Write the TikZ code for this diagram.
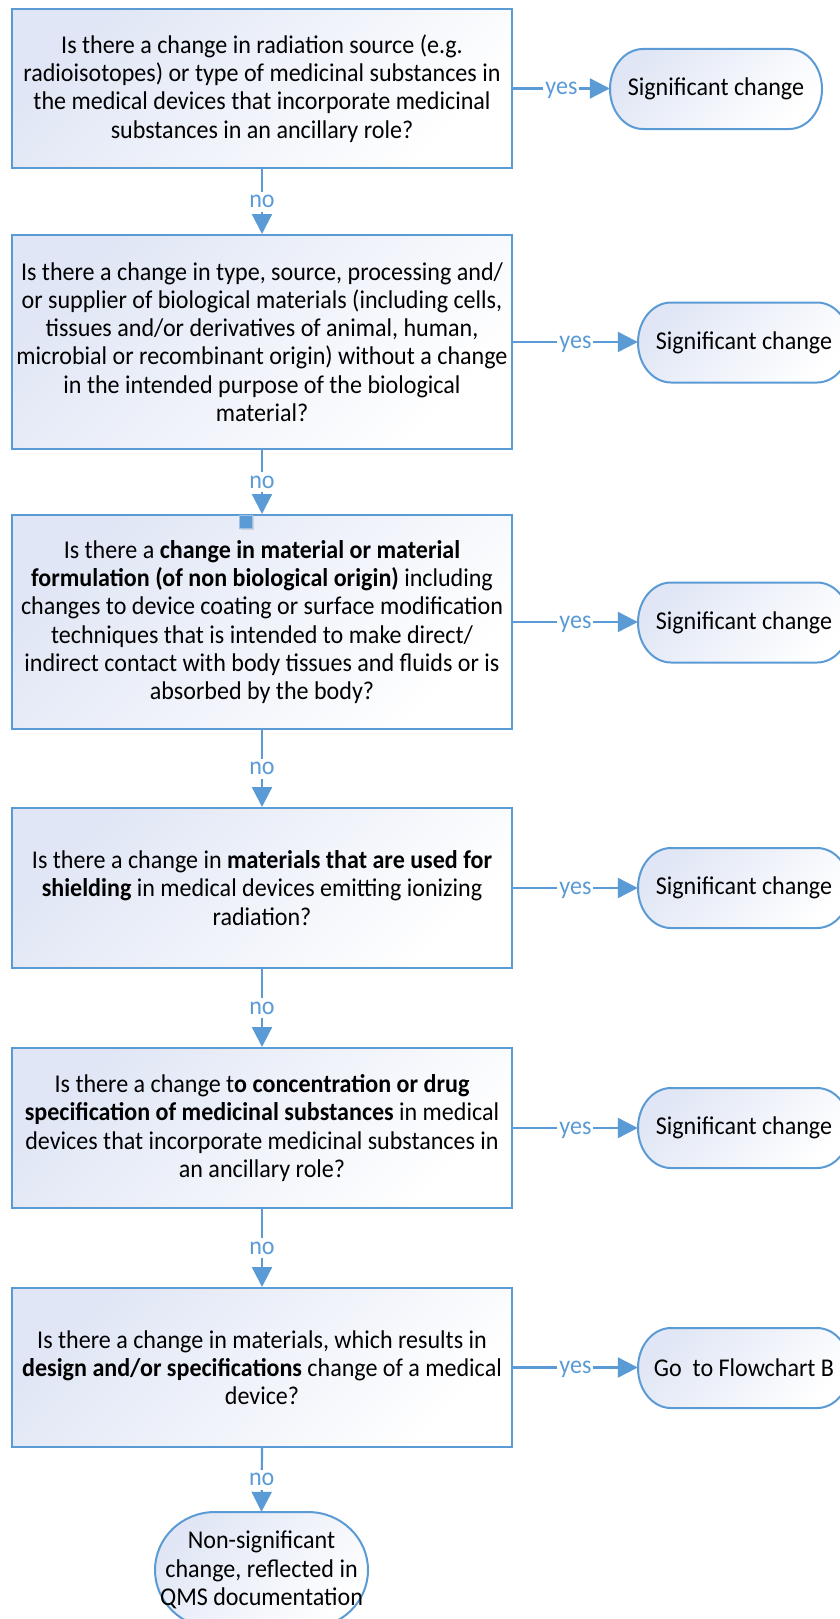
\documentclass[tikz,border=0pt]{standalone}
\usepackage{fontspec}
\setmainfont[FakeStretch=0.94]{Carlito}
\usetikzlibrary{arrows.meta,shadows}
\definecolor{flowblue}{RGB}{91,155,213}
\definecolor{shadeblue}{RGB}{224,230,245}

\tikzset{
  every node/.style={font=\fontsize{25.6}{28.3}\selectfont},
  question/.style={draw=flowblue, line width=2pt, minimum width=500pt,
    inner sep=0pt, align=center, top color=shadeblue,
    middle color=shadeblue!40!white, bottom color=white, shading angle=45},
  termtext/.style={inner sep=0pt, align=center},
  termfill/.style={draw=flowblue, line width=2pt, top color=shadeblue,
    middle color=shadeblue!40!white, bottom color=white, shading angle=45},
  conn/.style={draw=flowblue, line width=2.2pt,
    -{Triangle[length=20pt,width=20pt]}},
  lbl/.style={fill=white, text=flowblue, inner xsep=2pt, inner ysep=4pt,
    text height=12pt, text depth=0pt},
}

% terminator: name, centre x, centre y, width, half height, end radius, text
\newcommand\termnode[7]{%
  \path[termfill] ({#2-#4/2+#6},{#3-#5}) -- ({#2+#4/2-#6},{#3-#5})
    arc[start angle=90, end angle=-90, x radius=#6pt, y radius=#5pt]
    -- ({#2-#4/2+#6},{#3+#5})
    arc[start angle=270, end angle=90, x radius=#6pt, y radius=#5pt] -- cycle;
  \node[termtext, minimum width=#4pt, minimum height=2*#5pt] (#1) at (#2,#3) {#7};
}

\begin{document}
\begin{tikzpicture}[x=1pt, y=-1pt]
  \clip (0,0) rectangle (840,1619);
  \fill[white] (0,0) rectangle (840,1619);

  % questions
  \node[question, minimum height=159pt] (b1) at (262,88.5)
    {Is there a change in radiation source (e.g.\\
     radioisotopes) or type of medicinal substances in\\
     the medical devices that incorporate medicinal\\
     substances in an ancillary role?};
  \node[question, minimum height=214pt] (b2) at (262,342)
    {Is there a change in type, source, processing and/\\
     or supplier of biological materials (including cells,\\
     tissues and/or derivatives of animal, human,\\
     microbial or recombinant origin) without a change\\
     in the intended purpose of the biological\\
     material?};
  \node[question, minimum height=214pt] (b3) at (262,622)
    {Is there a \textbf{change in material or material}\\
     \textbf{formulation (of non biological origin)} including\\
     changes to device coating or surface modification\\
     techniques that is intended to make direct/\\
     indirect contact with body tissues and fluids or is\\
     absorbed by the body?};
  \node[question, minimum height=160pt] (b4) at (262,888)
    {Is there a change in \textbf{materials that are used for}\\
     \textbf{shielding} in medical devices emitting ionizing\\
     radiation?};
  \node[question, minimum height=160pt] (b5) at (262,1128)
    {Is there a change t\textbf{o concentration or drug}\\
     \textbf{specification of medicinal substances} in medical\\
     devices that incorporate medicinal substances in\\
     an ancillary role?};
  \node[question, minimum height=159pt] (b6) at (262,1367.5)
    {Is there a change in materials, which results in\\
     \textbf{design and/or specifications} change of a medical\\
     device?};

  % outcomes
  \termnode{t1}{716}{89}{212}{40}{33}{Significant change}
  \termnode{t2}{744}{342.5}{212}{40}{33}{Significant change}
  \termnode{t3}{744}{622.5}{212}{40}{33}{Significant change}
  \termnode{t4}{744}{888}{212}{40}{33}{Significant change}
  \termnode{t5}{744}{1128}{212}{40}{33}{Significant change}
  \termnode{t6}{744}{1368}{212}{40}{33}{Go\ \ to Flowchart B}
  \termnode{nsc}{261.5}{1570}{213}{58}{60}{Non-significant\\change, reflected in\\QMS documentation}

  % yes branches
  \foreach \q/\t in {b1/t1, b2/t2, b3/t3, b4/t4, b5/t5, b6/t6}
    \draw[conn] (\q.east) -- node[lbl]{yes} (\q.east -| \t.west);

  % no branches
  \foreach \a/\b in {b1/b2, b2/b3, b3/b4, b4/b5, b5/b6, b6/nsc}
    \draw[conn] (\a.south) -- node[lbl]{no} (\b.north);

  % connection handle on the third question
  \node[fill=flowblue, draw=flowblue!60!white, line width=0.6pt,
        minimum size=13pt, inner sep=0pt,
        drop shadow={opacity=0.25, shadow xshift=1.5pt, shadow yshift=-1.5pt}]
        (hdl) at (246,522) {};
\end{tikzpicture}
\end{document}
